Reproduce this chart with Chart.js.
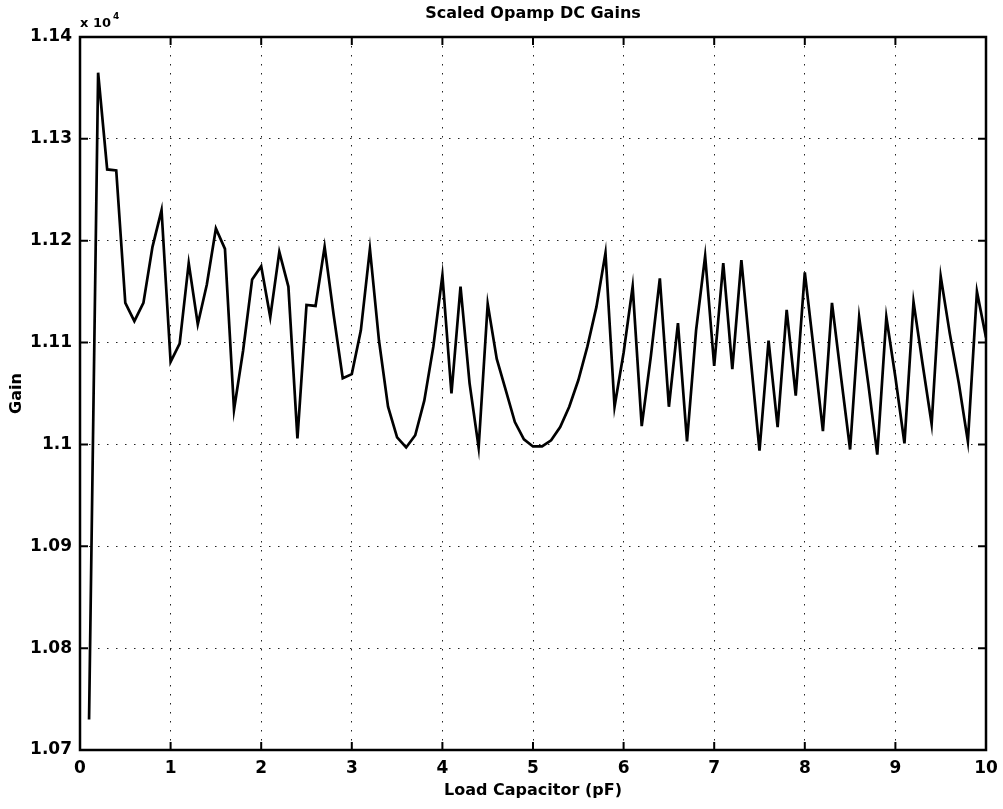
<!DOCTYPE html>
<html>
<head>
<meta charset="utf-8">
<script src="https://cdn.jsdelivr.net/npm/chart.js@4.4.0/dist/chart.umd.min.js"></script>
<style>
  html, body { margin: 0; padding: 0; background: #fff; }
  #wrap { width: 1003px; height: 809px; }
</style>
</head>
<body>
<div id="wrap"><canvas id="chart" width="1003" height="809"></canvas></div>
<script>
// load capacitance in pF
const capacitance = [
  0.1, 0.2, 0.3, 0.4, 0.5, 0.6, 0.7, 0.8, 0.9, 1.0,
  1.1, 1.2, 1.3, 1.4, 1.5, 1.6, 1.7, 1.8, 1.9, 2.0,
  2.1, 2.2, 2.3, 2.4, 2.5, 2.6, 2.7, 2.8, 2.9, 3.0,
  3.1, 3.2, 3.3, 3.4, 3.5, 3.6, 3.7, 3.8, 3.9, 4.0,
  4.1, 4.2, 4.3, 4.4, 4.5, 4.6, 4.7, 4.8, 4.9, 5.0,
  5.1, 5.2, 5.3, 5.4, 5.5, 5.6, 5.7, 5.8, 5.9, 6.0,
  6.1, 6.2, 6.3, 6.4, 6.5, 6.6, 6.7, 6.8, 6.9, 7.0,
  7.1, 7.2, 7.3, 7.4, 7.5, 7.6, 7.7, 7.8, 7.9, 8.0,
  8.1, 8.2, 8.3, 8.4, 8.5, 8.6, 8.7, 8.8, 8.9, 9.0,
  9.1, 9.2, 9.3, 9.4, 9.5, 9.6, 9.7, 9.8, 9.9, 10.0
];

// DC gain, in units of 1e4
const gain = [
  1.0730, 1.1365, 1.1270, 1.1269, 1.1139, 1.1121, 1.1139, 1.1194, 1.1230, 1.1081,
  1.1099, 1.1178, 1.1118, 1.1157, 1.1212, 1.1192, 1.1034, 1.1092, 1.1162, 1.1175,
  1.1125, 1.1189, 1.1155, 1.1006, 1.1137, 1.1136, 1.1194, 1.1127, 1.1065, 1.1069,
  1.1112, 1.1192, 1.1102, 1.1037, 1.1007, 1.0997, 1.1009, 1.1043, 1.1096, 1.1166,
  1.1050, 1.1155, 1.1060, 1.0997, 1.1138, 1.1084, 1.1053, 1.1022, 1.1005, 1.0998,
  1.0998, 1.1004, 1.1017, 1.1037, 1.1063, 1.1096, 1.1135, 1.1188, 1.1037, 1.1090,
  1.1155, 1.1018, 1.1086, 1.1163, 1.1037, 1.1119, 1.1003, 1.1112, 1.1185, 1.1077,
  1.1178, 1.1074, 1.1181, 1.1087, 1.0994, 1.1102, 1.1017, 1.1132, 1.1048, 1.1169,
  1.1092, 1.1013, 1.1139, 1.1066, 1.0995, 1.1125, 1.1060, 1.0990, 1.1125, 1.1066,
  1.1001, 1.1140, 1.1079, 1.1020, 1.1165, 1.1109, 1.1060, 1.1003, 1.1150, 1.1105
];

const yTickLabels = ['1.07', '1.08', '1.09', '1.1', '1.11', '1.12', '1.13', '1.14'];
const xTickLabels = ['0', '1', '2', '3', '4', '5', '6', '7', '8', '9', '10'];

const FONT = "'DejaVu Sans', Arial, Helvetica, sans-serif";
const TITLE = 'Scaled Opamp DC Gains';

const points = capacitance.map((c, i) => ({ x: c, y: gain[i] }));

// frame, inward tick marks, title and the exponent label, MATLAB style
const framePlugin = {
  id: 'frame',
  afterDraw(chart) {
    const ctx = chart.ctx;
    const a = chart.chartArea;
    const xs = chart.scales.x;
    const ys = chart.scales.y;
    const len = 8;
    ctx.save();
    ctx.strokeStyle = '#000';
    ctx.lineWidth = 2;
    ctx.beginPath();
    xs.ticks.forEach(t => {
      const px = xs.getPixelForValue(t.value);
      ctx.moveTo(px, a.bottom); ctx.lineTo(px, a.bottom - len);
      ctx.moveTo(px, a.top); ctx.lineTo(px, a.top + len);
    });
    ys.ticks.forEach(t => {
      const py = ys.getPixelForValue(t.value);
      ctx.moveTo(a.left, py); ctx.lineTo(a.left + len, py);
      ctx.moveTo(a.right, py); ctx.lineTo(a.right - len, py);
    });
    ctx.stroke();
    ctx.lineWidth = 2.5;
    ctx.strokeRect(a.left, a.top, a.right - a.left, a.bottom - a.top);

    ctx.fillStyle = '#000';

    // title, centred over the plot area
    ctx.textAlign = 'center';
    ctx.textBaseline = 'middle';
    ctx.font = 'bold 16px ' + FONT;
    ctx.fillText(TITLE, (a.left + a.right) / 2, 14);

    // x 10^4
    ctx.textBaseline = 'alphabetic';
    ctx.textAlign = 'left';
    ctx.font = 'bold 13px ' + FONT;
    ctx.fillText('x 10', a.left, a.top - 10);
    const w = ctx.measureText('x 10').width;
    ctx.font = 'bold 9px ' + FONT;
    ctx.fillText('4', a.left + w + 2, a.top - 18);
    ctx.restore();
  }
};

const ctx = document.getElementById('chart');
new Chart(ctx, {
  type: 'line',
  data: {
    datasets: [{
      data: points,
      borderColor: '#000',
      borderWidth: 2.7,
      pointRadius: 0,
      tension: 0,
      fill: false
    }]
  },
  options: {
    responsive: false,
    animation: false,
    devicePixelRatio: 1,
    layout: { padding: { left: 0, right: 17, top: 37, bottom: 0 } },
    plugins: {
      legend: { display: false },
      tooltip: { enabled: false },
      title: { display: false }
    },
    scales: {
      x: {
        type: 'linear',
        min: 0,
        max: 10,
        ticks: {
          stepSize: 1,
          color: '#000',
          padding: 8,
          maxRotation: 0,
          font: { family: FONT, size: 17, weight: 'bold' },
          callback: (v) => xTickLabels[Math.round(v)]
        },
        grid: { color: '#222', lineWidth: 1, drawTicks: false },
        border: { display: false, dash: [1.5, 7.5] },
        title: {
          display: true,
          text: 'Load Capacitor (pF)',
          color: '#000',
          font: { family: FONT, size: 16, weight: 'bold' },
          padding: { top: 0, bottom: 9 }
        },
        afterFit: (s) => { s.height = 59; s.paddingLeft = 0; s.paddingRight = 0; }
      },
      y: {
        type: 'linear',
        min: 1.07,
        max: 1.14,
        ticks: {
          stepSize: 0.01,
          color: '#000',
          padding: 8,
          font: { family: FONT, size: 17, weight: 'bold' },
          callback: (v) => yTickLabels[Math.round((v - 1.07) / 0.01)]
        },
        grid: { color: '#222', lineWidth: 1, drawTicks: false },
        border: { display: false, dash: [1.5, 7.5] },
        title: {
          display: true,
          text: 'Gain',
          color: '#000',
          font: { family: FONT, size: 16, weight: 'bold' },
          padding: { top: 7, bottom: 0 }
        },
        afterFit: (s) => { s.width = 80; s.paddingTop = 0; s.paddingBottom = 0; }
      }
    }
  },
  plugins: [framePlugin]
});
</script>
</body>
</html>
